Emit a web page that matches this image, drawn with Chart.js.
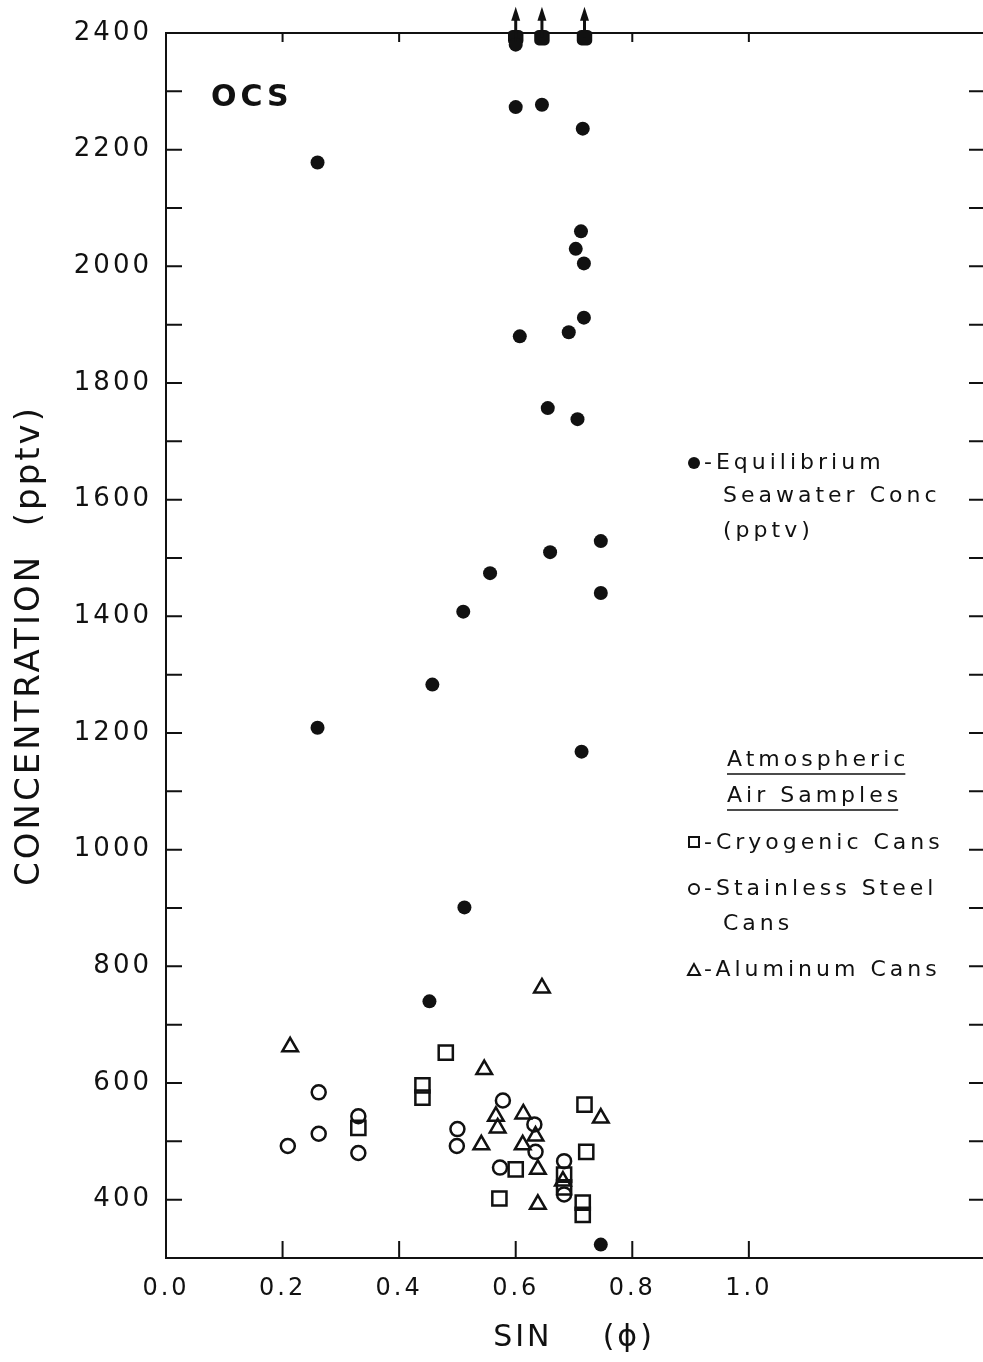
<!DOCTYPE html>
<html>
<head>
<meta charset="utf-8">
<script src="https://cdn.jsdelivr.net/npm/chart.js@4.4.1/dist/chart.umd.min.js"></script>
<style>
  html, body { margin: 0; padding: 0; background: #fff; }
  canvas { display: block; }
</style>
</head>
<body>
<canvas id="ocsChart" width="983" height="1362"></canvas>
<script>
// OCS vs SIN(phi) scatter

// equilibrium seawater conc (filled dots)
const eqX = [0.60, 0.645, 0.715, 0.26, 0.712, 0.703, 0.717, 0.717, 0.691, 0.607, 0.655, 0.706, 0.746, 0.659, 0.556, 0.746, 0.51, 0.457, 0.26, 0.713, 0.512, 0.452, 0.746, 0.60];
const eqY = [2273, 2277, 2236, 2178, 2060, 2030, 2005, 1912, 1887, 1880, 1757, 1738, 1529, 1510, 1474, 1440, 1408, 1283, 1209, 1168, 901, 740, 323, 2380];

// off scale values (drawn at the top with an arrow)
const offX = [0.60, 0.645, 0.718];
const offY = [2392, 2392, 2392];

// cryogenic cans (squares)
const cryoX = [0.48, 0.44, 0.44, 0.33, 0.60, 0.572, 0.718, 0.721, 0.715, 0.715, 0.683, 0.683];
const cryoY = [652, 596, 575, 523, 452, 402, 563, 482, 395, 374, 443, 421];

// stainless steel cans (circles)
const steelX = [0.209, 0.262, 0.262, 0.33, 0.33, 0.50, 0.499, 0.578, 0.573, 0.632, 0.634, 0.683, 0.683];
const steelY = [492, 584, 513, 543, 480, 521, 492, 570, 455, 529, 482, 466, 409];

// aluminum cans (triangles)
const aluX = [0.213, 0.546, 0.566, 0.569, 0.541, 0.613, 0.612, 0.634, 0.638, 0.638, 0.746, 0.681, 0.645];
const aluY = [662, 623, 543, 523, 494, 547, 494, 509, 452, 392, 540, 432, 763];

const xTickLabels = ['0.0', '0.2', '0.4', '0.6', '0.8', '1.0'];
const yTickLabels = ['400', '600', '800', '1000', '1200', '1400', '1600', '1800', '2000', '2200', '2400'];

function pts(xs, ys) {
    return xs.map((x, i) => ({ x: x, y: ys[i] }));
}

const FONT = '"DejaVu Sans", "Open Sans", sans-serif';

// letter spacing for the whole canvas, the original lettering is wide
const spacingPlugin = {
    id: 'spacing',
    beforeDraw(chart) {
        chart.ctx.letterSpacing = '3px';
    }
};

// frame, inward ticks, arrows, legend text
const decoPlugin = {
    id: 'deco',
    afterDatasetsDraw(chart) {
        const ctx = chart.ctx;
        const a = chart.chartArea;
        const xs = chart.scales.x;
        const ys = chart.scales.y;
        ctx.save();
        ctx.strokeStyle = '#111';
        ctx.fillStyle = '#111';
        ctx.lineWidth = 2;

        // top border
        ctx.beginPath();
        ctx.moveTo(a.left, a.top);
        ctx.lineTo(983, a.top);
        ctx.stroke();

        // y ticks, left and right, pointing in
        ys.ticks.forEach(t => {
            const py = ys.getPixelForValue(t.value);
            ctx.beginPath();
            ctx.moveTo(a.left, py);
            ctx.lineTo(a.left + 16, py);
            ctx.moveTo(a.right - 13, py);
            ctx.lineTo(983, py);
            ctx.stroke();
        });

        // x ticks bottom and top
        xs.ticks.forEach(t => {
            if (t.value <= 0 || t.value > 1.001) return;
            const px = xs.getPixelForValue(t.value);
            ctx.beginPath();
            ctx.moveTo(px, a.bottom);
            ctx.lineTo(px, a.bottom - 17);
            ctx.moveTo(px, a.top);
            ctx.lineTo(px, a.top + 9);
            ctx.stroke();
        });

        // arrows on the off scale points
        const meta = chart.getDatasetMeta(1);
        meta.data.forEach(p => {
            ctx.beginPath();
            ctx.moveTo(p.x, p.y);
            ctx.lineTo(p.x, p.y - 20);
            ctx.lineWidth = 3;
            ctx.stroke();
            ctx.beginPath();
            ctx.moveTo(p.x, p.y - 31);
            ctx.lineTo(p.x - 4.5, p.y - 17);
            ctx.lineTo(p.x + 4.5, p.y - 17);
            ctx.closePath();
            ctx.fill();
        });

        // OCS label
        ctx.letterSpacing = '4px';
        ctx.font = 'bold 30px ' + FONT;
        ctx.textBaseline = 'middle';
        ctx.textAlign = 'left';
        ctx.fillText('OCS', 211, 98);

        // legend
        ctx.letterSpacing = '4px';
        ctx.font = '22px ' + FONT;
        ctx.lineWidth = 2;

        ctx.beginPath();
        ctx.arc(694, 463, 6, 0, Math.PI * 2);
        ctx.fill();
        ctx.fillText('-Equilibrium', 704, 463);
        ctx.fillText('Seawater Conc', 723, 496);
        ctx.fillText('(pptv)', 723, 531);

        ctx.fillText('Atmospheric', 727, 760);
        ctx.fillText('Air Samples', 727, 796);
        let w1 = ctx.measureText('Atmospheric').width - 4;
        let w2 = ctx.measureText('Air Samples').width - 4;
        ctx.lineWidth = 1.5;
        ctx.beginPath();
        ctx.moveTo(727, 774);
        ctx.lineTo(727 + w1, 774);
        ctx.moveTo(727, 810);
        ctx.lineTo(727 + w2, 810);
        ctx.stroke();

        ctx.lineWidth = 2;
        ctx.strokeRect(689, 837, 10, 10);
        ctx.fillText('-Cryogenic Cans', 704, 843);

        ctx.beginPath();
        ctx.arc(694, 889, 5, 0, Math.PI * 2);
        ctx.stroke();
        ctx.fillText('-Stainless Steel', 704, 889);
        ctx.fillText('Cans', 723, 924);

        ctx.beginPath();
        ctx.moveTo(694, 964);
        ctx.lineTo(688, 975);
        ctx.lineTo(700, 975);
        ctx.closePath();
        ctx.stroke();
        ctx.fillText('-Aluminum Cans', 704, 970);

        ctx.restore();
    }
};

const chartData = {
    datasets: [{
        label: 'Equilibrium Seawater Conc (pptv)',
        data: pts(eqX, eqY),
        pointStyle: 'circle',
        pointRadius: 7,
        backgroundColor: '#111',
        borderColor: '#111',
        borderWidth: 0,
        clip: false
    }, {
        label: 'Equilibrium (off scale)',
        data: pts(offX, offY),
        pointStyle: 'rectRounded',
        pointRadius: 9,
        backgroundColor: '#111',
        borderColor: '#111',
        borderWidth: 0,
        clip: false
    }, {
        label: 'Cryogenic Cans',
        data: pts(cryoX, cryoY),
        pointStyle: 'rect',
        pointRadius: 10,
        backgroundColor: 'rgba(255,255,255,0)',
        borderColor: '#111',
        borderWidth: 2.5,
        clip: false
    }, {
        label: 'Stainless Steel Cans',
        data: pts(steelX, steelY),
        pointStyle: 'circle',
        pointRadius: 7,
        backgroundColor: 'rgba(255,255,255,0)',
        borderColor: '#111',
        borderWidth: 2.5,
        clip: false
    }, {
        label: 'Aluminum Cans',
        data: pts(aluX, aluY),
        pointStyle: 'triangle',
        pointRadius: 9,
        backgroundColor: 'rgba(255,255,255,0)',
        borderColor: '#111',
        borderWidth: 2.5,
        clip: false
    }]
};

const chartOptions = {
    responsive: false,
    animation: false,
    devicePixelRatio: 1,
    layout: {
        autoPadding: false,
        padding: { top: 33, right: 1, left: 0, bottom: 0 }
    },
    scales: {
        x: {
            type: 'linear',
            min: 0,
            max: 1.4,
            afterFit: s => { s.height = 104; s.paddingLeft = 0; s.paddingRight = 0; },
            ticks: {
                stepSize: 0.2,
                color: '#111',
                padding: 16,
                maxRotation: 0,
                font: { family: FONT, size: 24 },
                callback: function(value) {
                    const lbl = value.toFixed(1);
                    return xTickLabels.includes(lbl) ? lbl : '';
                }
            },
            grid: { display: false, drawTicks: false },
            border: { display: true, color: '#111', width: 2 },
            title: {
                display: true,
                text: 'SIN    (ϕ)',
                color: '#111',
                font: { family: FONT, size: 30 },
                padding: { top: 0, bottom: 6 }
            }
        },
        y: {
            type: 'linear',
            min: 300,
            max: 2400,
            afterFit: s => { s.width = 166; },
            ticks: {
                stepSize: 100,
                color: '#111',
                padding: 14,
                font: { family: FONT, size: 26 },
                callback: function(value) {
                    const lbl = String(value);
                    return yTickLabels.includes(lbl) ? lbl : '';
                }
            },
            grid: { display: false, drawTicks: false },
            border: { display: true, color: '#111', width: 2 },
            title: {
                display: true,
                text: 'CONCENTRATION  (pptv)',
                color: '#111',
                font: { family: FONT, size: 34 },
                padding: { top: 10, bottom: 0 }
            }
        }
    },
    plugins: {
        legend: { display: false },
        tooltip: { enabled: false }
    }
};

const ctxOcs = document.getElementById('ocsChart').getContext('2d');
const ocsChart = new Chart(ctxOcs, {
    type: 'scatter',
    data: chartData,
    options: chartOptions,
    plugins: [spacingPlugin, decoPlugin]
});
</script>
</body>
</html>
